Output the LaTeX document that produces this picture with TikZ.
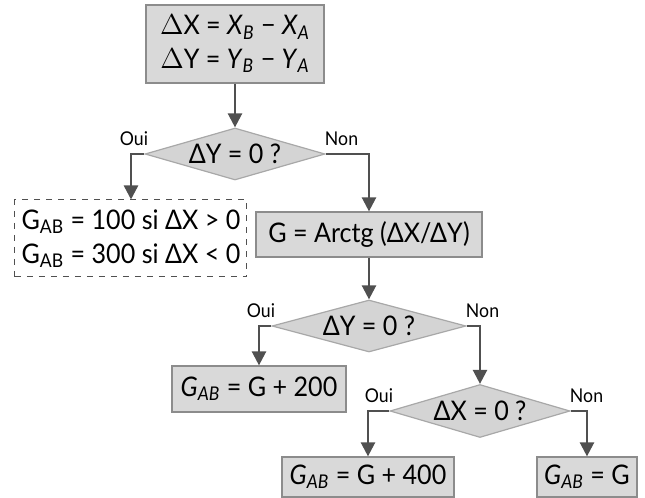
\documentclass[tikz,border=0pt]{standalone}
\usepackage{fontspec}
\setmainfont{Lato}[FakeStretch=0.93]
\usetikzlibrary{shapes.geometric,arrows.meta}
\definecolor{boxfill}{HTML}{D9D9D9}
\definecolor{boxline}{HTML}{8C8C8C}
\definecolor{dfill}{HTML}{D4D4D4}
\definecolor{dline}{HTML}{A8A8A8}
\definecolor{arr}{HTML}{505050}
\newcommand{\sbs}[1]{\textsubscript{#1}}
\begin{document}
\begin{tikzpicture}[x=0.5pt,y=-0.5pt,
  every node/.style={font=\fontsize{13.5}{16}\selectfont, inner sep=0pt},
  gbox/.style={rectangle, draw=boxline, fill=boxfill, line width=0.6pt, align=center},
  dashbox/.style={rectangle, draw=arr, dashed, line width=0.5pt, align=left},
  dec/.style={diamond, draw=dline, fill=dfill, line width=0.6pt, aspect=3.5},
  lbl/.style={font=\fontsize{9.5}{10}\selectfont},
  conn/.style={draw=arr, line width=1.2pt, -{Triangle[width=7pt,length=7pt]}}]
\useasboundingbox (0,0) rectangle (645,498);
\node[gbox, minimum width=89pt, minimum height=39pt] (top) at (235,44)
  {$\Delta$X = \textit{X}\sbs{\textit{B}} − \textit{X}\sbs{\textit{A}}\\[1pt]
   $\Delta$Y = \textit{Y}\sbs{\textit{B}} − \textit{Y}\sbs{\textit{A}}};
\node[dec, minimum width=90pt, minimum height=26pt] (d1) at (235,154) {ΔY = 0 ?};
\node[dashbox, minimum width=116pt, minimum height=38.5pt] (dash) at (131,238.5)
  {G\sbs{AB} = 100 si ΔX > 0\\[1pt] G\sbs{AB} = 300 si ΔX < 0};
\node[gbox, minimum width=113pt, minimum height=22.5pt] (gb) at (369,234.5) {G = Arctg (ΔX/ΔY)};
\node[dec, minimum width=97pt, minimum height=26pt] (d2) at (369,326) {ΔY = 0 ?};
\node[gbox, minimum width=87pt, minimum height=23pt] (g200) at (259,389) {\textit{G}\sbs{\textit{AB}} = G + 200};
\node[dec, minimum width=90pt, minimum height=26.5pt] (d3) at (480,411) {ΔX = 0 ?};
\node[gbox, minimum width=86pt, minimum height=20pt] (g400) at (368,477) {\textit{G}\sbs{\textit{AB}} = G + 400};
\node[gbox, minimum width=50pt, minimum height=20pt] (gG) at (587,477) {\textit{G}\sbs{\textit{AB}} = G};
% connectors
\draw[conn] (top.south) -- (d1.north);
\draw[conn] (d1.west) -| (dash.north);
\draw[conn] (d1.east) -| (gb.north);
\draw[conn] (gb.south) -- (d2.north);
\draw[conn] (d2.west) -| (g200.north);
\draw[conn] (d2.east) -| (d3.north);
\draw[conn] (d3.west) -| (g400.north);
\draw[conn] (d3.east) -| (gG.north);
% labels
\node[lbl, anchor=south east] at ([shift={(4,-8)}]d1.west) {Oui};
\node[lbl, anchor=south west] at ([shift={(-1,-8)}]d1.east) {Non};
\node[lbl, anchor=south east] at ([shift={(4,-8)}]d2.west) {Oui};
\node[lbl, anchor=south west] at ([shift={(-1,-8)}]d2.east) {Non};
\node[lbl, anchor=south east] at ([shift={(4,-8)}]d3.west) {Oui};
\node[lbl, anchor=south west] at ([shift={(-1,-8)}]d3.east) {Non};
\end{tikzpicture}
\end{document}
